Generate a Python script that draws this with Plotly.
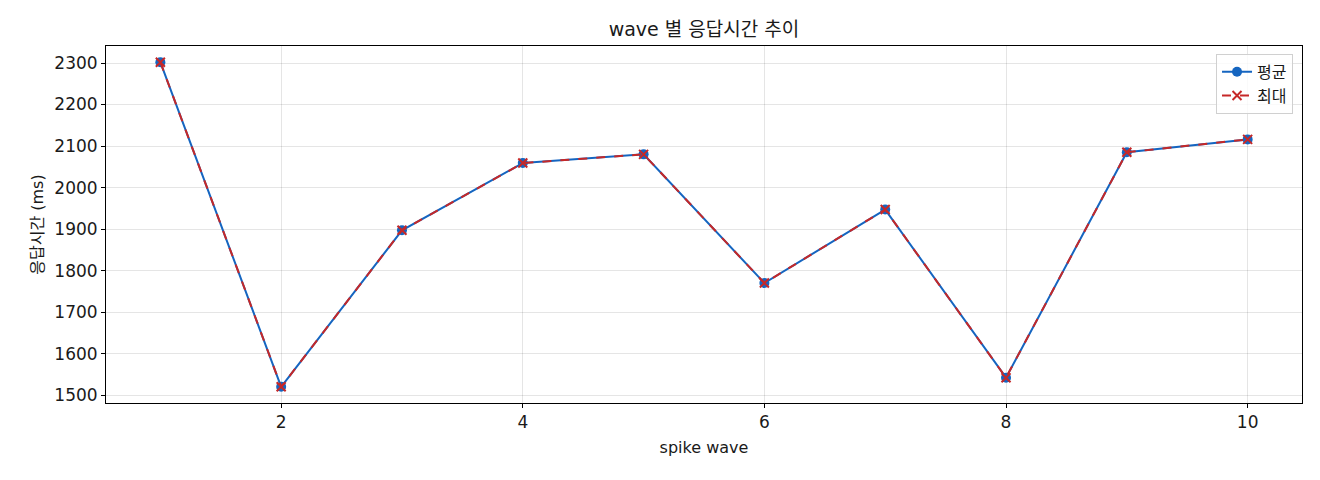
import plotly.graph_objects as go

waves = [1, 2, 3, 4, 5, 6, 7, 8, 9, 10]
mean_ms = [2302, 1520, 1897, 2059, 2080, 1770, 1947, 1542, 2085, 2116]
max_ms = [2302, 1520, 1897, 2059, 2080, 1770, 1947, 1542, 2085, 2116]
x_ticks = [2, 4, 6, 8, 10]
y_ticks = [1500, 1600, 1700, 1800, 1900, 2000, 2100, 2200, 2300]

FONT = "DejaVu Sans, Noto Sans CJK KR"
BLUE = "#1565C0"
RED = "#C62828"
TXT = "#1a1a1a"

fig = go.Figure()
fig.add_trace(go.Scatter(
    x=waves, y=mean_ms, name="평균", mode="lines+markers",
    line=dict(color=BLUE, width=2),
    marker=dict(symbol="circle", size=10, color=BLUE),
))
fig.add_trace(go.Scatter(
    x=waves, y=max_ms, name="최대", mode="lines+markers",
    line=dict(color=RED, width=2, dash="dash"),
    marker=dict(symbol="x-thin", size=9, color=RED, line=dict(color=RED, width=2)),
))

axis_common = dict(
    showline=True, linecolor="black", linewidth=1, mirror=True,
    ticks="outside", ticklen=4, tickcolor="black",
    showgrid=True, gridcolor="rgba(0,0,0,0.1)", gridwidth=1,
    zeroline=False, tickfont=dict(family=FONT, size=17, color=TXT),
)

fig.update_layout(
    width=1312, height=472,
    margin=dict(l=98, r=18, t=38, b=77),
    paper_bgcolor="white", plot_bgcolor="white",
    font=dict(family=FONT, size=15, color=TXT),
    title=dict(text="wave 별 응답시간 추이", x=0.5, xref="paper", xanchor="center",
               y=1 - 21 / 472, yanchor="middle", font=dict(family=FONT, size=19, color=TXT)),
    xaxis=dict(range=[0.55, 10.45], tickvals=x_ticks,
               title=dict(text="spike wave", font=dict(family=FONT, size=16), standoff=10),
               **axis_common),
    yaxis=dict(range=[1481, 2341], tickvals=y_ticks,
               title=dict(text="응답시간 (ms)", font=dict(family=FONT, size=16), standoff=6),
               **axis_common),
    legend=dict(x=0.9925, y=0.978, xanchor="right", yanchor="top",
                bgcolor="rgba(255,255,255,0.8)", bordercolor="#d0d0d0", borderwidth=1,
                font=dict(family=FONT, size=16, color=TXT)),
    showlegend=True,
)

fig.write_html("out.html")
